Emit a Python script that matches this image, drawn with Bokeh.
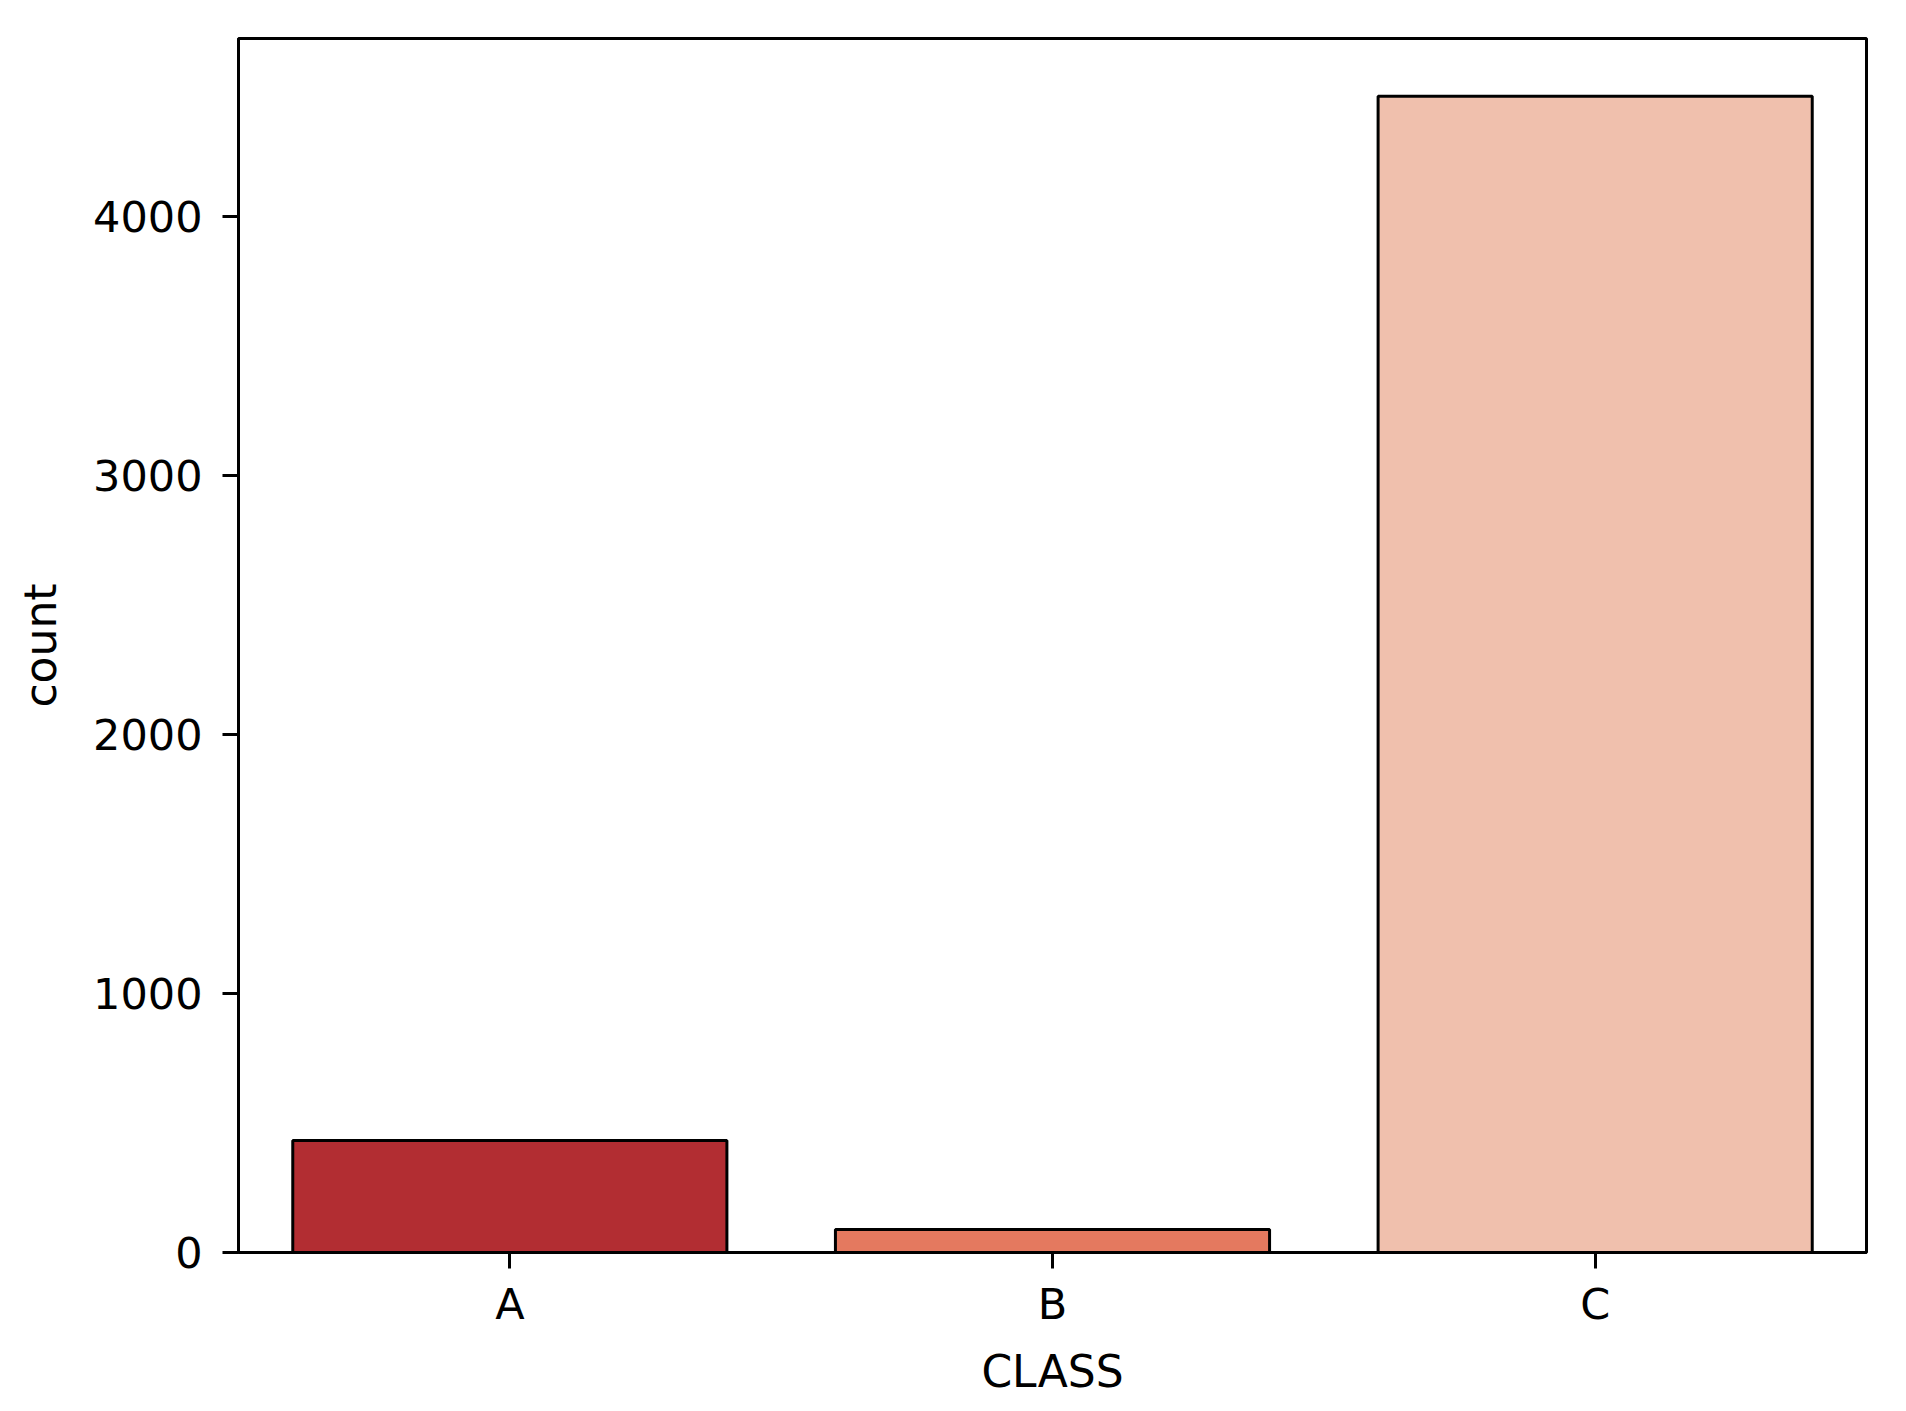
from bokeh.plotting import figure
from bokeh.models import ColumnDataSource, FactorRange, Range1d, FixedTicker
from bokeh.embed import file_html
from bokeh.resources import INLINE

classes = ["A", "B", "C"]
counts = [433, 89, 4466]
colors = ["#b22d32", "#e4795f", "#f0c0ad"]
y_ticks = [0, 1000, 2000, 3000, 4000]

src = ColumnDataSource(dict(cls=classes, cnt=counts, col=colors))

p = figure(
    x_range=FactorRange(factors=classes, range_padding=0),
    y_range=Range1d(0, max(counts) * 1.05),
    frame_width=1628, frame_height=1214,
    min_border_left=238, min_border_top=38, min_border_right=32, min_border_bottom=140,
    output_backend="svg", toolbar_location=None,
    background_fill_color="white", border_fill_color="white",
)

p.vbar(x="cls", top="cnt", width=0.8, bottom=0, source=src,
       fill_color="col", line_color="black", line_width=3)

p.xgrid.visible = False
p.ygrid.visible = False
p.outline_line_color = "black"
p.outline_line_width = 3
p.outline_line_alpha = 1

p.yaxis.ticker = FixedTicker(ticks=y_ticks)
p.yaxis.minor_tick_line_color = None

for ax in (p.xaxis[0], p.yaxis[0]):
    ax.axis_line_color = "black"
    ax.axis_line_width = 3
    ax.major_tick_line_color = "black"
    ax.major_tick_line_width = 3
    ax.major_tick_out = 16
    ax.major_tick_in = 0
    ax.major_label_text_font = "DejaVu Sans"
    ax.major_label_text_font_size = "43px"
    ax.major_label_text_color = "black"
    ax.axis_label_text_font = "DejaVu Sans"
    ax.axis_label_text_font_size = "44px"
    ax.axis_label_text_font_style = "normal"
    ax.axis_label_text_color = "black"

p.xaxis.axis_label = "CLASS"
p.yaxis.axis_label = "count"
p.xaxis.major_label_standoff = 10
p.yaxis.major_label_standoff = 20
p.xaxis.axis_label_standoff = 14
p.yaxis.axis_label_standoff = 24

open("out.html", "w").write(file_html(p, INLINE))
